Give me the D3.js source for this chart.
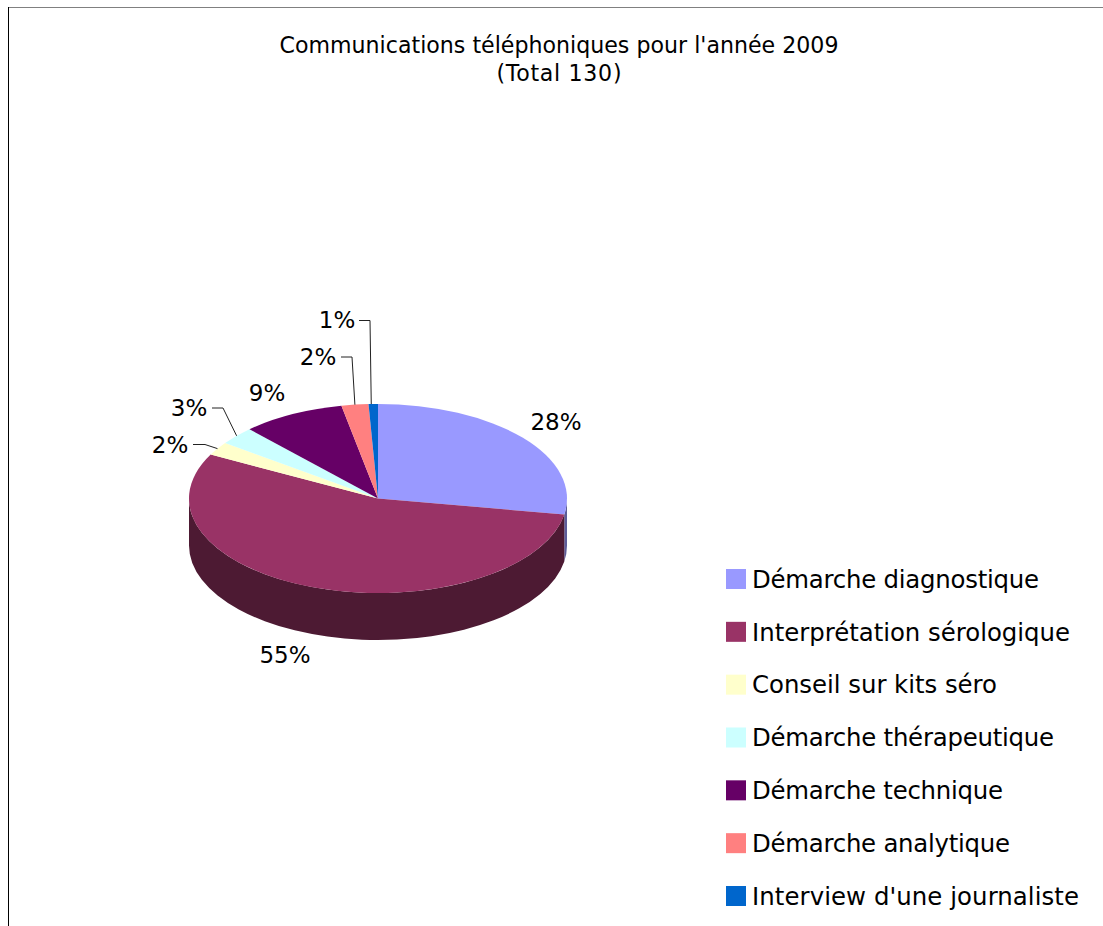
<!DOCTYPE html>
<meta charset="utf-8">
<style>
  html, body { margin: 0; padding: 0; background: #fff; }
  svg { display: block; }
  text { font-family: "DejaVu Sans", sans-serif; fill: #000; }
</style>
<svg></svg>
<script src="https://d3js.org/d3.v7.min.js"></script>
<script>

// shares (percent of the 130 calls)
var categories = ["Démarche diagnostique", "Interprétation sérologique", "Conseil sur kits séro",
  "Démarche thérapeutique", "Démarche technique", "Démarche analytique", "Interview d'une journaliste"]
var shares = [27.7, 55.0, 2.3, 3.1, 8.8, 2.3, 0.8]
var titleLines = ["Communications téléphoniques pour l'année 2009", "(Total 130)"]
var colors = ["#9999ff", "#993366", "#ffffcc", "#ccffff", "#660066", "#ff8080", "#0066cc"]

var width = 1103
var height = 926

// pie is a flat disc seen from above: y squashed by half, with a wall under it
var cx = 378
var cy = 498.5
var rx = 189
var ry = rx / 2
var depth = 47

// label centres, leader elbow and leader start for the small slices
var labelLayout = [
  { x: 556, y: 422 },
  { x: 285, y: 655 },
  { x: 170, y: 445, elbow: [205, 444], start: 193 },
  { x: 189, y: 408, elbow: [223, 407.5], start: 212 },
  { x: 267, y: 393 },
  { x: 318, y: 357, elbow: [352, 356.5], start: 341 },
  { x: 337, y: 320, elbow: [370, 320], start: 359, shift: -2 }
]

// the original font runs a bit wider or narrower than DejaVu, so fit the lines
var titleWidths = [559, 125]
var legendWidths = [287, 318, 245, 302, 251, 258, 327]

var svg = d3.select("svg")
    .attr("width", width)
    .attr("height", height)

// chart frame, only top and left show up
svg.append("line")
    .attr("x1", 8).attr("y1", 7.5).attr("x2", width).attr("y2", 7.5)
    .attr("stroke", "#808080")
svg.append("line")
    .attr("x1", 8.5).attr("y1", 7).attr("x2", 8.5).attr("y2", height)
    .attr("stroke", "#000")

svg.selectAll(".title")
  .data(titleLines)
  .enter().append("text")
    .attr("class", "title")
    .attr("x", 559)
    .attr("y", function(d, i) { return 53 + i * 28 })
    .attr("text-anchor", "middle")
    .attr("textLength", function(d, i) { return titleWidths[i] })
    .style("font-size", "22.1px")
    .text(function(d) { return d })

var pie = d3.pie().sort(null)
var slices = pie(shares)

function rimX(a) { return cx + rx * Math.sin(a) }
function rimY(a) { return cy - ry * Math.cos(a) }

// wall: only the front half of the disc (90deg to 270deg) is visible
function wallPath(d) {
  var a0 = Math.max(d.startAngle, Math.PI / 2)
  var a1 = Math.min(d.endAngle, Math.PI * 1.5)
  if (a1 <= a0) return null
  return "M" + rimX(a0) + "," + rimY(a0)
    + "A" + rx + "," + ry + " 0 0 1 " + rimX(a1) + "," + rimY(a1)
    + "L" + rimX(a1) + "," + (rimY(a1) + depth)
    + "A" + rx + "," + ry + " 0 0 0 " + rimX(a0) + "," + (rimY(a0) + depth)
    + "Z"
}

function wallColor(i) {
  var c = d3.rgb(colors[i])
  var k = i === 0 ? 0.6 : 0.5
  return d3.rgb(c.r * k, c.g * k, c.b * k).formatHex()
}

svg.append("g").selectAll("path")
  .data(slices.filter(function(d) { return wallPath(d) }))
  .enter().append("path")
    .attr("d", wallPath)
    .attr("fill", function(d) { return wallColor(d.index) })

var arc = d3.arc().innerRadius(0).outerRadius(rx)

svg.append("g")
    .attr("transform", "translate(" + cx + "," + cy + ") scale(1,0.5)")
  .selectAll("path")
  .data(slices)
  .enter().append("path")
    .attr("d", arc)
    .attr("fill", function(d) { return colors[d.index] })

// percent labels, small slices get a leader line
var percent = d3.format(".0f")

svg.append("g").selectAll("text")
  .data(slices)
  .enter().append("text")
    .attr("x", function(d) { return labelLayout[d.index].x })
    .attr("y", function(d) { return labelLayout[d.index].y })
    .attr("text-anchor", "middle")
    .attr("dy", "0.36em")
    .style("font-size", "23px")
    .text(function(d) { return percent(d.value) + "%" })

svg.append("g").selectAll("polyline")
  .data(slices.filter(function(d) { return labelLayout[d.index].elbow }))
  .enter().append("polyline")
    .attr("fill", "none")
    .attr("stroke", "#222")
    .attr("points", function(d) {
      var l = labelLayout[d.index]
      var mid = (d.startAngle + d.endAngle) / 2
      var endX = rimX(mid) + (l.shift || 0)
      return [[l.start, l.elbow[1] + 0.5], [l.elbow[0], l.elbow[1] + 0.5], [endX, rimY(mid)]].join(" ")
    })

// legend
var legendY = d3.scalePoint().domain(categories).range([579, 896])

var legend = svg.append("g").selectAll("g")
  .data(categories)
  .enter().append("g")
    .attr("transform", function(d) { return "translate(726," + legendY(d) + ")" })

legend.append("rect")
    .attr("y", -10)
    .attr("width", 20)
    .attr("height", 20)
    .attr("fill", function(d, i) { return colors[i] })

legend.append("text")
    .attr("x", 26)
    .attr("dy", "0.36em")
    .attr("textLength", function(d, i) { return legendWidths[i] })
    .style("font-size", "24.4px")
    .text(function(d) { return d })

</script>
